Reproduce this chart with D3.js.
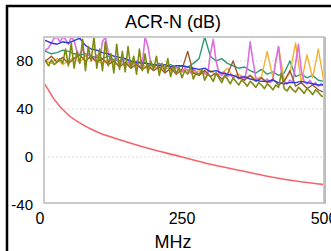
<!DOCTYPE html>
<html>
<head>
<meta charset="utf-8">
<script src="https://cdn.jsdelivr.net/npm/d3@7"></script>
<style>
  html, body { margin: 0; padding: 0; background: #fff; }
  svg { display: block; font-family: "Liberation Sans", Arial, sans-serif; }
</style>
</head>
<body>
<svg id="chart" width="331" height="251"></svg>
<script>
// ACR-N (dB) vs MHz
var xTicks = [0, 250, 500];
var yTicks = [-40, 0, 40, 80];

// limit line, [MHz, dB]
var limitLine = [[5, 63], [12, 58], [25, 48], [50, 35], [75, 27], [100, 21], [150, 13],
  [200, 6], [250, 0], [300, -6], [350, -11], [400, -16], [450, -20], [500, -23]];

// measured pairs, sampled every 10 MHz (0..500)
var blue = [98, 97, 95, 94, 96, 95, 97, 99, 93, 90,
  89, 87, 86, 84, 83, 82, 80, 79, 78, 78,
  77, 76, 77, 75, 76, 76, 75, 74, 73, 74,
  71, 72, 70, 69, 68, 66, 67, 65, 64, 63,
  63, 64, 62, 61, 62, 62, 63, 62, 61, 60, 60];
var green = [90, 88, 86, 87, 89, 88, 86, 85, 86, 84,
  83, 82, 84, 81, 80, 82, 79, 78, 80, 77,
  76, 78, 75, 77, 74, 76, 75, 78, 82, 100,
  84, 80, 82, 78, 76, 74, 75, 72, 70, 73,
  69, 71, 68, 70, 80, 67, 69, 66, 68, 64, 63];
var orange = [84, 80, 78, 82, 77, 80, 83, 79, 84, 82,
  80, 78, 81, 77, 79, 76, 78, 75, 77, 74,
  76, 73, 75, 72, 74, 71, 73, 70, 72, 69,
  72, 68, 70, 74, 67, 69, 66, 68, 65, 67,
  88, 66, 92, 64, 70, 95, 62, 85, 66, 90, 62];
var brown = [86, 80, 84, 79, 83, 78, 82, 85, 80, 84,
  79, 82, 77, 80, 75, 79, 74, 77, 73, 76,
  72, 75, 70, 74, 69, 73, 88, 70, 68, 72,
  67, 70, 65, 69, 80, 66, 64, 68, 63, 66,
  62, 65, 60, 63, 72, 59, 62, 57, 60, 56, 54];

// spikier pairs, sampled every 5 MHz (0..500)
var violet = [92, 90, 89, 91, 95, 99, 100, 96, 100, 98,
  94, 100, 97, 88, 85, 90, 84, 86, 83, 82,
  85, 81, 96, 100, 88, 80, 79, 82, 78, 80,
  77, 79, 76, 78, 80, 75, 77, 100, 92, 78,
  76, 74, 77, 75, 73, 76, 74, 72, 75, 73,
  71, 74, 72, 70, 73, 71, 69, 72, 70, 68,
  86, 98, 80, 70, 68, 71, 67, 69, 66, 68,
  65, 67, 64, 75, 96, 80, 66, 64, 66, 63,
  65, 62, 64, 80, 92, 70, 63, 61, 64, 62,
  78, 94, 72, 63, 61, 64, 60, 62, 59, 61, 60];
var olive = [82, 78, 80, 76, 81, 77, 79, 82, 78, 90,
  76, 95, 74, 88, 78, 98, 72, 92, 80, 100,
  74, 90, 72, 96, 76, 86, 70, 94, 73, 88,
  71, 92, 74, 84, 69, 90, 72, 86, 70, 80,
  73, 84, 68, 78, 71, 82, 67, 76, 70, 74,
  66, 72, 69, 75, 65, 70, 68, 73, 64, 69,
  67, 63, 70, 66, 62, 68, 65, 61, 66, 63,
  60, 64, 62, 59, 63, 61, 58, 62, 60, 57,
  61, 59, 56, 60, 58, 70, 57, 55, 59, 56,
  54, 58, 56, 53, 57, 55, 52, 56, 54, 51, 50];

var series = [
  {values: green, step: 10, color: "#2f9a72"},
  {values: orange, step: 10, color: "#f2b233"},
  {values: violet, step: 5, color: "#dd6ee0"},
  {values: brown, step: 10, color: "#9a5a2c"},
  {values: blue, step: 10, color: "#2a3ce0"},
  {values: olive, step: 5, color: "#7f8a12"}
];

var svg = d3.select("#chart");
var frame = {left: 44, top: 37, right: 324, bottom: 203};

var x = d3.scaleLinear().domain([0, 500]).range([40, 324]);
var y = d3.scaleLinear().domain([-40, 100]).range([205, 37]);

// outer black border (top and left)
svg.append("path")
  .attr("d", "M7,251 L7,6 L331,6")
  .attr("fill", "none").attr("stroke", "#000").attr("stroke-width", 2.5);

svg.append("text")
  .attr("x", 173).attr("y", 28)
  .attr("text-anchor", "middle").attr("font-size", 18)
  .text("ACR-N (dB)");

svg.append("clipPath").attr("id", "plot")
  .append("rect")
  .attr("x", frame.left).attr("y", frame.top)
  .attr("width", frame.right - frame.left).attr("height", frame.bottom - frame.top);

// grid
svg.append("g").selectAll("line").data([0, 40, 80]).enter().append("line")
  .attr("x1", frame.left).attr("x2", frame.right)
  .attr("y1", function(d){ return y(d); }).attr("y2", function(d){ return y(d); })
  .attr("stroke", "#dcdcdc").attr("stroke-dasharray", "2,2");

var line = d3.line()
  .x(function(d){ return x(d[0]); })
  .y(function(d){ return y(d[1]); });

var g = svg.append("g").attr("clip-path", "url(#plot)");
series.forEach(function(s){
  var pts = s.values.map(function(v, i){ return [i * s.step, v]; });
  g.append("path")
    .attr("d", line(pts))
    .attr("fill", "none")
    .attr("stroke", s.color)
    .attr("stroke-width", s.step === 5 ? 1.6 : 1.4)
    .attr("stroke-linejoin", "round");
});

g.append("path")
  .attr("d", line.curve(d3.curveMonotoneX)(limitLine))
  .attr("fill", "none").attr("stroke", "#f5646a").attr("stroke-width", 1.6);

// plot frame
svg.append("rect")
  .attr("x", frame.left).attr("y", frame.top)
  .attr("width", frame.right - frame.left).attr("height", frame.bottom - frame.top)
  .attr("fill", "none").attr("stroke", "#cacaca").attr("stroke-width", 2);
svg.append("line")
  .attr("x1", frame.right + 1).attr("x2", frame.right + 1)
  .attr("y1", frame.top).attr("y2", frame.bottom + 1)
  .attr("stroke", "#bdbdbd").attr("stroke-width", 2);

// axes labels
svg.append("g").selectAll("text").data(yTicks).enter().append("text")
  .attr("x", 33).attr("y", function(d){ return y(d); })
  .attr("dy", "0.36em").attr("text-anchor", "end").attr("font-size", 15)
  .text(function(d){ return d; });

svg.append("g").selectAll("text").data(xTicks).enter().append("text")
  .attr("x", function(d){ return x(d); }).attr("y", 224)
  .attr("text-anchor", "middle").attr("font-size", 16)
  .text(function(d){ return d; });

svg.append("text")
  .attr("x", 173).attr("y", 248)
  .attr("text-anchor", "middle").attr("font-size", 18)
  .text("MHz");
</script>
</body>
</html>
